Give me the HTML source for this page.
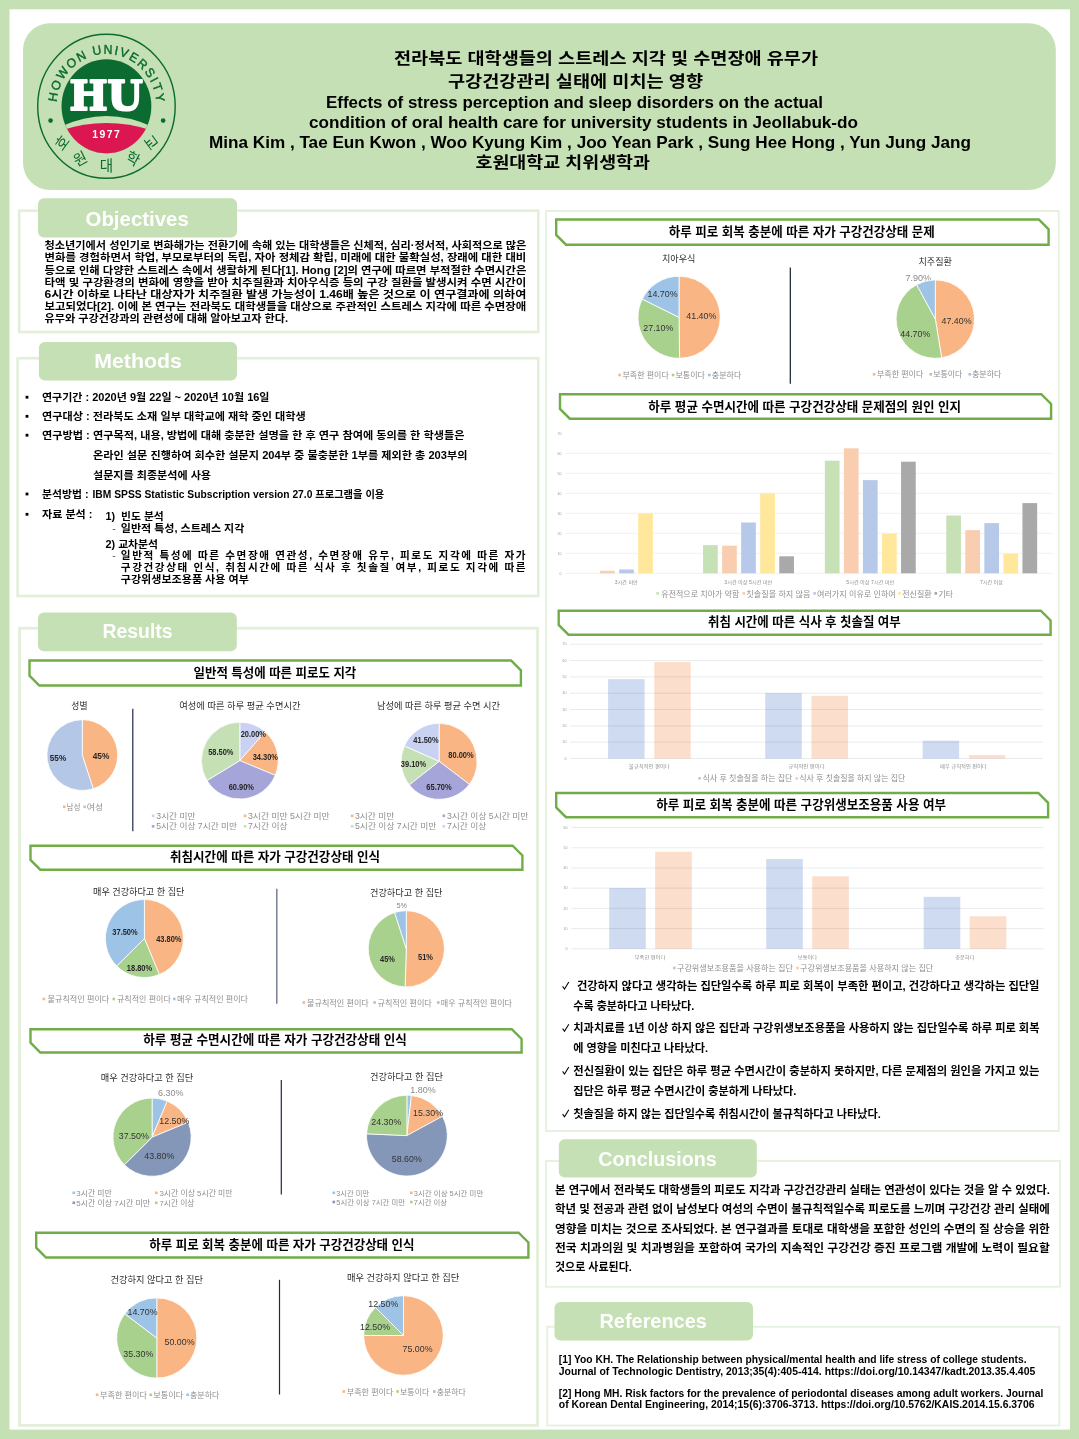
<!DOCTYPE html>
<html lang="ko">
<head>
<meta charset="utf-8">
<title>전라북도 대학생들의 스트레스 지각 및 수면장애 유무가 구강건강관리 실태에 미치는 영향</title>
<style>
html,body{margin:0;padding:0;background:#c5e0b4;}
body{width:1079px;height:1439px;overflow:hidden;position:relative;}
svg{display:block;position:absolute;left:0;top:0;}
svg text{white-space:pre;}
</style>
</head>
<body>
<svg width="1079" height="1439" viewBox="0 0 1079 1439" font-family="'Liberation Sans','Noto Sans CJK KR','NanumGothic',sans-serif" font-weight="700" fill="#000">
<rect x="0.00" y="0.00" width="1079.00" height="1439.00" fill="#c5e0b4"/>
<rect x="9.50" y="9.30" width="1060.50" height="1420.30" fill="#fff"/>
<rect x="23.00" y="23.20" width="1032.80" height="166.80" fill="#c5e0b4" rx="27"/>
<text x="394.00" y="64.14" font-size="16.2" textLength="424.00" lengthAdjust="spacingAndGlyphs">전라북도 대학생들의 스트레스 지각 및 수면장애 유무가</text>
<text x="448.00" y="87.06" font-size="16" textLength="255.00" lengthAdjust="spacingAndGlyphs">구강건강관리 실태에 미치는 영향</text>
<text x="326.00" y="107.60" font-size="16.6" textLength="497.00" lengthAdjust="spacingAndGlyphs">Effects of stress perception and sleep disorders on the actual</text>
<text x="309.00" y="127.60" font-size="16.6" textLength="549.00" lengthAdjust="spacingAndGlyphs">condition of oral health care for university students in Jeollabuk-do</text>
<text x="209.00" y="147.70" font-size="16.6" textLength="762.00" lengthAdjust="spacingAndGlyphs">Mina Kim , Tae Eun Kwon , Woo Kyung Kim , Joo Yean Park , Sung Hee Hong , Yun Jung Jang</text>
<text x="475.50" y="167.86" font-size="16" textLength="174.50" lengthAdjust="spacingAndGlyphs">호원대학교 치위생학과</text>
<g id="logo" transform="translate(106.45,106.3) scale(1,1.047)">
<circle cx="0" cy="0" r="68.75" fill="none" stroke="#0b6b30" stroke-width="1.4"/>
<clipPath id="disk"><circle cx="0" cy="0" r="44.9"/></clipPath>
<g clip-path="url(#disk)">
<rect x="-50" y="-50" width="100" height="100" fill="#0b6b30"/>
<path d="M-46,19.6 Q0,-1.2 46,19.6 L46,50 L-46,50 Z" fill="#c5e0b4"/>
<path d="M-46,23.2 Q0,8.7 46,23.2 L46,50 L-46,50 Z" fill="#dc1650"/>
</g>
<text x="-37.00" y="3.60" font-size="39.5" fill="#fff" font-family="'DejaVu Serif','Liberation Serif',serif" textLength="73.30" lengthAdjust="spacingAndGlyphs" stroke="#fff" stroke-width="2.1" stroke-linejoin="round">HU</text>
<text x="-14.10" y="30.50" font-size="10.4" fill="#fff" font-family="'Liberation Sans',sans-serif" textLength="27.40" lengthAdjust="spacing">1977</text>
<circle cx="-55.9" cy="13.6" r="2.3" fill="#0b6b30"/><circle cx="56.7" cy="13.6" r="2.3" fill="#0b6b30"/>
<path id="arcTop" d="M-49.85,-3.92 A50.0,50.0 0 0 1 49.85,-3.92" fill="none"/>
<text font-size="12.2" font-weight="400" fill="#0b6b30" font-family="'Liberation Sans',sans-serif" stroke="#0b6b30" stroke-width="0.4"><textPath href="#arcTop" textLength="149.2" lengthAdjust="spacing">HOWON UNIVERSITY</textPath></text>
<text x="0" y="0" font-size="14.6" font-weight="400" fill="#0b6b30" text-anchor="middle" transform="translate(-44.52,34.78) rotate(-52.0) translate(0,5.6)">호</text>
<text x="0" y="0" font-size="14.6" font-weight="400" fill="#0b6b30" text-anchor="middle" transform="translate(-26.44,49.93) rotate(-27.9) translate(0,5.6)">원</text>
<text x="0" y="0" font-size="14.6" font-weight="400" fill="#0b6b30" text-anchor="middle" transform="translate(0.00,56.50) rotate(0.0) translate(0,5.6)">대</text>
<text x="0" y="0" font-size="14.6" font-weight="400" fill="#0b6b30" text-anchor="middle" transform="translate(26.70,49.79) rotate(28.2) translate(0,5.6)">학</text>
<text x="0" y="0" font-size="14.6" font-weight="400" fill="#0b6b30" text-anchor="middle" transform="translate(44.82,34.40) rotate(52.5) translate(0,5.6)">교</text>
</g>
<rect x="19.20" y="210.70" width="519.10" height="121.30" fill="none" stroke="#e2f0d9" stroke-width="2.6"/>
<rect x="38.00" y="198.20" width="199.00" height="39.20" fill="#c5e0b4" rx="6"/>
<text x="85.50" y="225.80" font-size="20.5" fill="#fff" textLength="103.30" lengthAdjust="spacingAndGlyphs">Objectives</text>
<text x="44.60" y="249.18" font-size="10.6" textLength="481.70" lengthAdjust="spacingAndGlyphs">청소년기에서 성인기로 변화해가는 전환기에 속해 있는 대학생들은 신체적, 심리·정서적, 사회적으로 많은</text>
<text x="44.60" y="261.38" font-size="10.6" textLength="481.70" lengthAdjust="spacingAndGlyphs">변화를 경험하면서 학업, 부모로부터의 독립, 자아 정체감 확립, 미래에 대한 불확실성, 장래에 대한 대비</text>
<text x="44.60" y="273.58" font-size="10.6" textLength="481.70" lengthAdjust="spacingAndGlyphs">등으로 인해 다양한 스트레스 속에서 생활하게 된다[1]. Hong [2]의 연구에 따르면 부적절한 수면시간은</text>
<text x="44.60" y="285.78" font-size="10.6" textLength="481.70" lengthAdjust="spacingAndGlyphs">타액 및 구강환경의 변화에 영향을 받아 치주질환과 치아우식증 등의 구강 질환을 발생시켜 수면 시간이</text>
<text x="44.60" y="297.98" font-size="10.6" textLength="481.70" lengthAdjust="spacingAndGlyphs">6시간 이하로 나타난 대상자가 치주질환 발생 가능성이 1.46배 높은 것으로 이 연구결과에 의하여</text>
<text x="44.60" y="310.18" font-size="10.6" textLength="481.70" lengthAdjust="spacingAndGlyphs">보고되었다[2]. 이에 본 연구는 전라북도 대학생들을 대상으로 주관적인 스트레스 지각에 따른 수면장애</text>
<text x="44.60" y="322.38" font-size="10.6" textLength="243.40" lengthAdjust="spacingAndGlyphs">유무와 구강건강과의 관련성에 대해 알아보고자 한다.</text>
<rect x="17.60" y="358.20" width="520.70" height="237.80" fill="none" stroke="#e2f0d9" stroke-width="2.6"/>
<rect x="38.90" y="342.00" width="198.10" height="38.60" fill="#c5e0b4" rx="6"/>
<text x="94.30" y="368.00" font-size="20.5" fill="#fff" textLength="87.50" lengthAdjust="spacingAndGlyphs">Methods</text>
<rect x="25.60" y="395.80" width="2.80" height="2.80" fill="#000"/>
<text x="42.00" y="401.28" font-size="10.6" textLength="227.50" lengthAdjust="spacingAndGlyphs">연구기간 : 2020년 9월 22일 ~ 2020년 10월 16일</text>
<rect x="25.60" y="414.90" width="2.80" height="2.80" fill="#000"/>
<text x="42.00" y="420.38" font-size="10.6" textLength="263.80" lengthAdjust="spacingAndGlyphs">연구대상 : 전라북도 소재 일부 대학교에 재학 중인 대학생</text>
<rect x="25.60" y="433.80" width="2.80" height="2.80" fill="#000"/>
<text x="42.00" y="439.28" font-size="10.6" textLength="422.50" lengthAdjust="spacingAndGlyphs">연구방법 : 연구목적, 내용, 방법에 대해 충분한 설명을 한 후 연구 참여에 동의를 한 학생들은</text>
<text x="93.00" y="458.68" font-size="10.6" textLength="374.50" lengthAdjust="spacingAndGlyphs">온라인 설문 진행하여 회수한 설문지 204부 중 불충분한 1부를 제외한 총 203부의</text>
<text x="93.00" y="478.58" font-size="10.6" textLength="118.00" lengthAdjust="spacingAndGlyphs">설문지를 최종분석에 사용</text>
<rect x="25.60" y="492.60" width="2.80" height="2.80" fill="#000"/>
<text x="42.00" y="498.08" font-size="10.6" textLength="46.50" lengthAdjust="spacingAndGlyphs">분석방법 :</text>
<text x="92.50" y="498.08" font-size="10.6" textLength="291.80" lengthAdjust="spacingAndGlyphs">IBM SPSS Statistic Subscription version 27.0 프로그램을 이용</text>
<rect x="25.60" y="512.90" width="2.80" height="2.80" fill="#000"/>
<text x="42.00" y="518.38" font-size="10.6" textLength="50.50" lengthAdjust="spacingAndGlyphs">자료 분석 :</text>
<text x="105.50" y="520.28" font-size="10.6" textLength="58.30" lengthAdjust="spacingAndGlyphs">1)  빈도 분석</text>
<text x="112.30" y="532.08" font-size="10.6" font-weight="400" fill="#555">-</text>
<text x="120.80" y="532.08" font-size="10.6" textLength="123.50" lengthAdjust="spacingAndGlyphs">일반적 특성, 스트레스 지각</text>
<text x="105.50" y="547.68" font-size="10.6" textLength="52.50" lengthAdjust="spacingAndGlyphs">2) 교차분석</text>
<text x="112.30" y="559.08" font-size="10.6" font-weight="400" fill="#555">-</text>
<text x="120.80" y="559.08" font-size="10.6" textLength="404.70" lengthAdjust="spacing">일반적 특성에 따른 수면장애 연관성, 수면장애 유무, 피로도 지각에 따른 자가</text>
<text x="120.80" y="571.18" font-size="10.6" textLength="404.70" lengthAdjust="spacing">구강건강상태 인식, 취침시간에 따른 식사 후 칫솔질 여부, 피로도 지각에 따른</text>
<text x="120.80" y="583.28" font-size="10.6" textLength="128.00" lengthAdjust="spacingAndGlyphs">구강위생보조용품 사용 여부</text>
<rect x="19.60" y="628.20" width="518.00" height="797.20" fill="none" stroke="#e2f0d9" stroke-width="2.8"/>
<rect x="38.00" y="612.50" width="198.80" height="38.70" fill="#c5e0b4" rx="6"/>
<text x="102.50" y="638.30" font-size="20.5" fill="#fff" textLength="70.00" lengthAdjust="spacingAndGlyphs">Results</text>
<path d="M29.50,660.50 L511.10,660.50 L520.90,670.30 L520.90,685.50 L39.30,685.50 L29.50,675.70 Z" fill="#fff" stroke="#70ad47" stroke-width="2.4" stroke-linejoin="miter"/>
<text x="193.50" y="677.35" font-size="12.6" textLength="162.80" lengthAdjust="spacingAndGlyphs">일반적 특성에 따른 피로도 지각</text>
<text x="71.30" y="709.38" font-size="9.3" font-weight="400" fill="#2b2b2b" textLength="16.20" lengthAdjust="spacingAndGlyphs">성별</text>
<path d="M82.30,755.10 L82.30,719.70 A35.40,35.40 0 0 1 93.24,788.77 Z" fill="#fab584" stroke="#fff" stroke-width="0.8" stroke-linejoin="round"/>
<path d="M82.30,755.10 L93.24,788.77 A35.40,35.40 0 1 1 82.30,719.70 Z" fill="#b4c7e7" stroke="#fff" stroke-width="0.8" stroke-linejoin="round"/>
<text x="49.85" y="760.51" font-size="8.6" fill="#262626" textLength="16.30" lengthAdjust="spacingAndGlyphs">55%</text>
<text x="92.70" y="759.31" font-size="8.6" fill="#262626" textLength="16.60" lengthAdjust="spacingAndGlyphs">45%</text>
<rect x="63.00" y="805.50" width="2.60" height="2.60" fill="#fab584"/>
<text x="66.50" y="809.96" font-size="8.2" font-weight="400" fill="#8e8e8e" textLength="14.00" lengthAdjust="spacingAndGlyphs">남성</text>
<rect x="83.30" y="805.50" width="2.60" height="2.60" fill="#b4c7e7"/>
<text x="86.80" y="809.96" font-size="8.2" font-weight="400" fill="#8e8e8e" textLength="16.20" lengthAdjust="spacingAndGlyphs">여성</text>
<line x1="132.80" y1="708.80" x2="132.80" y2="831.30" stroke="#1f2a44" stroke-width="1.2"/>
<text x="179.30" y="708.58" font-size="9.3" font-weight="400" fill="#2b2b2b" textLength="121.20" lengthAdjust="spacingAndGlyphs">여성에 따른 하루 평균 수면시간</text>
<path d="M239.80,760.60 L239.80,722.20 A38.40,38.40 0 0 1 265.22,731.82 Z" fill="#c9d2f2" stroke="#fff" stroke-width="0.8" stroke-linejoin="round"/>
<path d="M239.80,760.60 L265.22,731.82 A38.40,38.40 0 0 1 275.27,775.32 Z" fill="#fab584" stroke="#fff" stroke-width="0.8" stroke-linejoin="round"/>
<path d="M239.80,760.60 L275.27,775.32 A38.40,38.40 0 0 1 206.97,780.52 Z" fill="#a5a5d9" stroke="#fff" stroke-width="0.8" stroke-linejoin="round"/>
<path d="M239.80,760.60 L206.97,780.52 A38.40,38.40 0 0 1 239.80,722.20 Z" fill="#c5e0b4" stroke="#fff" stroke-width="0.8" stroke-linejoin="round"/>
<text x="240.65" y="736.74" font-size="8.4" fill="#262626" textLength="25.30" lengthAdjust="spacingAndGlyphs">20.00%</text>
<text x="252.65" y="760.44" font-size="8.4" fill="#262626" textLength="25.30" lengthAdjust="spacingAndGlyphs">34.30%</text>
<text x="228.65" y="790.44" font-size="8.4" fill="#262626" textLength="25.30" lengthAdjust="spacingAndGlyphs">60.90%</text>
<text x="208.15" y="755.44" font-size="8.4" fill="#262626" textLength="25.30" lengthAdjust="spacingAndGlyphs">58.50%</text>
<rect x="151.80" y="814.50" width="2.60" height="2.60" fill="#c9d2f2"/>
<text x="156.30" y="818.96" font-size="8.2" font-weight="400" fill="#8e8e8e" textLength="39.20" lengthAdjust="spacingAndGlyphs">3시간 미만</text>
<rect x="243.80" y="814.50" width="2.60" height="2.60" fill="#fab584"/>
<text x="248.00" y="818.96" font-size="8.2" font-weight="400" fill="#8e8e8e" textLength="81.50" lengthAdjust="spacingAndGlyphs">3시간 미만 5시간 미만</text>
<rect x="151.80" y="825.00" width="2.60" height="2.60" fill="#a5a5d9"/>
<text x="156.30" y="829.46" font-size="8.2" font-weight="400" fill="#8e8e8e" textLength="80.70" lengthAdjust="spacingAndGlyphs">5시간 이상 7시간 미만</text>
<rect x="243.80" y="825.00" width="2.60" height="2.60" fill="#c5e0b4"/>
<text x="248.00" y="829.46" font-size="8.2" font-weight="400" fill="#8e8e8e" textLength="39.50" lengthAdjust="spacingAndGlyphs">7시간 이상</text>
<text x="377.00" y="709.38" font-size="9.3" font-weight="400" fill="#2b2b2b" textLength="123.00" lengthAdjust="spacingAndGlyphs">남성에 따른 하루 평균 수면 시간</text>
<path d="M439.10,761.30 L439.10,723.30 A38.00,38.00 0 0 1 469.34,784.31 Z" fill="#fab584" stroke="#fff" stroke-width="0.8" stroke-linejoin="round"/>
<path d="M439.10,761.30 L469.34,784.31 A38.00,38.00 0 0 1 409.25,784.81 Z" fill="#a5a5d9" stroke="#fff" stroke-width="0.8" stroke-linejoin="round"/>
<path d="M439.10,761.30 L409.25,784.81 A38.00,38.00 0 0 1 404.38,745.86 Z" fill="#c5e0b4" stroke="#fff" stroke-width="0.8" stroke-linejoin="round"/>
<path d="M439.10,761.30 L404.38,745.86 A38.00,38.00 0 0 1 439.10,723.30 Z" fill="#c9d2f2" stroke="#fff" stroke-width="0.8" stroke-linejoin="round"/>
<text x="413.35" y="742.94" font-size="8.4" fill="#262626" textLength="25.30" lengthAdjust="spacingAndGlyphs">41.50%</text>
<text x="448.35" y="758.44" font-size="8.4" fill="#262626" textLength="25.30" lengthAdjust="spacingAndGlyphs">80.00%</text>
<text x="400.85" y="766.94" font-size="8.4" fill="#262626" textLength="25.30" lengthAdjust="spacingAndGlyphs">39.10%</text>
<text x="426.35" y="790.44" font-size="8.4" fill="#262626" textLength="25.30" lengthAdjust="spacingAndGlyphs">65.70%</text>
<rect x="350.80" y="814.50" width="2.60" height="2.60" fill="#fab584"/>
<text x="355.00" y="818.96" font-size="8.2" font-weight="400" fill="#8e8e8e" textLength="39.30" lengthAdjust="spacingAndGlyphs">3시간 미만</text>
<rect x="442.50" y="814.50" width="2.60" height="2.60" fill="#a5a5d9"/>
<text x="447.00" y="818.96" font-size="8.2" font-weight="400" fill="#8e8e8e" textLength="81.30" lengthAdjust="spacingAndGlyphs">3시간 이상 5시간 미만</text>
<rect x="350.80" y="825.00" width="2.60" height="2.60" fill="#c5e0b4"/>
<text x="355.00" y="829.46" font-size="8.2" font-weight="400" fill="#8e8e8e" textLength="81.30" lengthAdjust="spacingAndGlyphs">5시간 이상 7시간 미만</text>
<rect x="442.50" y="825.00" width="2.60" height="2.60" fill="#c9d2f2"/>
<text x="447.00" y="829.46" font-size="8.2" font-weight="400" fill="#8e8e8e" textLength="39.30" lengthAdjust="spacingAndGlyphs">7시간 이상</text>
<path d="M30.50,845.70 L512.60,845.70 L522.40,855.50 L522.40,869.70 L40.30,869.70 L30.50,859.90 Z" fill="#fff" stroke="#70ad47" stroke-width="2.4" stroke-linejoin="miter"/>
<text x="170.00" y="861.15" font-size="12.6" textLength="210.00" lengthAdjust="spacingAndGlyphs">취침시간에 따른 자가 구강건강상태 인식</text>
<text x="93.00" y="895.38" font-size="9.3" font-weight="400" fill="#2b2b2b" textLength="91.50" lengthAdjust="spacingAndGlyphs">매우 건강하다고 한 집단</text>
<path d="M144.40,938.50 L144.40,899.50 A39.00,39.00 0 0 1 159.31,974.54 Z" fill="#fab584" stroke="#fff" stroke-width="0.8" stroke-linejoin="round"/>
<path d="M144.40,938.50 L159.31,974.54 A39.00,39.00 0 0 1 116.76,966.01 Z" fill="#a9d18e" stroke="#fff" stroke-width="0.8" stroke-linejoin="round"/>
<path d="M144.40,938.50 L116.76,966.01 A39.00,39.00 0 0 1 144.40,899.50 Z" fill="#9dc3e6" stroke="#fff" stroke-width="0.8" stroke-linejoin="round"/>
<text x="156.15" y="942.24" font-size="8.4" fill="#262626" textLength="25.30" lengthAdjust="spacingAndGlyphs">43.80%</text>
<text x="126.85" y="970.94" font-size="8.4" fill="#262626" textLength="25.30" lengthAdjust="spacingAndGlyphs">18.80%</text>
<text x="112.35" y="934.94" font-size="8.4" fill="#262626" textLength="25.30" lengthAdjust="spacingAndGlyphs">37.50%</text>
<rect x="42.50" y="997.70" width="2.60" height="2.60" fill="#fab584"/>
<text x="47.50" y="1002.16" font-size="8.2" font-weight="400" fill="#8e8e8e" textLength="61.80" lengthAdjust="spacingAndGlyphs">불규칙적인 편이다</text>
<rect x="112.50" y="997.70" width="2.60" height="2.60" fill="#a9d18e"/>
<text x="117.00" y="1002.16" font-size="8.2" font-weight="400" fill="#8e8e8e" textLength="53.80" lengthAdjust="spacingAndGlyphs">규칙적인 편이다</text>
<rect x="173.00" y="997.70" width="2.60" height="2.60" fill="#9dc3e6"/>
<text x="177.00" y="1002.16" font-size="8.2" font-weight="400" fill="#8e8e8e" textLength="71.00" lengthAdjust="spacingAndGlyphs">매우 규칙적인 편이다</text>
<line x1="276.80" y1="888.80" x2="276.80" y2="1003.80" stroke="#70778c" stroke-width="1.4"/>
<text x="370.00" y="896.08" font-size="9.3" font-weight="400" fill="#2b2b2b" textLength="72.50" lengthAdjust="spacingAndGlyphs">건강하다고 한 집단</text>
<text x="396.80" y="907.59" font-size="7.4" font-weight="400" fill="#808080" textLength="10.00" lengthAdjust="spacingAndGlyphs">5%</text>
<path d="M406.30,948.80 L406.30,910.70 A38.10,38.10 0 1 1 405.12,986.88 Z" fill="#fab584" stroke="#fff" stroke-width="0.8" stroke-linejoin="round"/>
<path d="M406.30,948.80 L405.12,986.88 A38.10,38.10 0 0 1 394.64,912.53 Z" fill="#a9d18e" stroke="#fff" stroke-width="0.8" stroke-linejoin="round"/>
<path d="M406.30,948.80 L394.64,912.53 A38.10,38.10 0 0 1 406.30,910.70 Z" fill="#9dc3e6" stroke="#fff" stroke-width="0.8" stroke-linejoin="round"/>
<text x="418.00" y="959.94" font-size="8.4" fill="#262626" textLength="15.00" lengthAdjust="spacingAndGlyphs">51%</text>
<text x="380.10" y="962.24" font-size="8.4" fill="#262626" textLength="14.80" lengthAdjust="spacingAndGlyphs">45%</text>
<rect x="302.50" y="1001.20" width="2.60" height="2.60" fill="#fab584"/>
<text x="307.00" y="1005.66" font-size="8.2" font-weight="400" fill="#8e8e8e" textLength="61.80" lengthAdjust="spacingAndGlyphs">불규칙적인 편이다</text>
<rect x="373.30" y="1001.20" width="2.60" height="2.60" fill="#a9d18e"/>
<text x="377.50" y="1005.66" font-size="8.2" font-weight="400" fill="#8e8e8e" textLength="54.30" lengthAdjust="spacingAndGlyphs">규칙적인 편이다</text>
<rect x="437.00" y="1001.20" width="2.60" height="2.60" fill="#9dc3e6"/>
<text x="440.80" y="1005.66" font-size="8.2" font-weight="400" fill="#8e8e8e" textLength="71.20" lengthAdjust="spacingAndGlyphs">매우 규칙적인 편이다</text>
<path d="M30.50,1029.20 L511.80,1029.20 L521.60,1039.00 L521.60,1052.50 L40.30,1052.50 L30.50,1042.70 Z" fill="#fff" stroke="#70ad47" stroke-width="2.4" stroke-linejoin="miter"/>
<text x="143.30" y="1044.45" font-size="12.6" textLength="263.50" lengthAdjust="spacingAndGlyphs">하루 평균 수면시간에 따른 자가 구강건강상태 인식</text>
<text x="100.80" y="1080.58" font-size="9.3" font-weight="400" fill="#2b2b2b" textLength="92.50" lengthAdjust="spacingAndGlyphs">매우 건강하다고 한 집단</text>
<path d="M152.10,1137.20 L152.10,1098.10 A39.10,39.10 0 0 1 167.16,1101.12 Z" fill="#9dc3e6" stroke="#fff" stroke-width="0.8" stroke-linejoin="round"/>
<path d="M152.10,1137.20 L167.16,1101.12 A39.10,39.10 0 0 1 188.25,1122.31 Z" fill="#fab584" stroke="#fff" stroke-width="0.8" stroke-linejoin="round"/>
<path d="M152.10,1137.20 L188.25,1122.31 A39.10,39.10 0 0 1 124.39,1164.78 Z" fill="#8497b9" stroke="#fff" stroke-width="0.8" stroke-linejoin="round"/>
<path d="M152.10,1137.20 L124.39,1164.78 A39.10,39.10 0 0 1 152.10,1098.10 Z" fill="#a9d18e" stroke="#fff" stroke-width="0.8" stroke-linejoin="round"/>
<text x="158.05" y="1096.01" font-size="8.6" font-weight="400" fill="#8a8a8a" textLength="25.50" lengthAdjust="spacingAndGlyphs">6.30%</text>
<text x="159.30" y="1123.51" font-size="8.6" font-weight="400" fill="#333" textLength="30.00" lengthAdjust="spacingAndGlyphs">12.50%</text>
<text x="118.80" y="1139.31" font-size="8.6" font-weight="400" fill="#333" textLength="30.00" lengthAdjust="spacingAndGlyphs">37.50%</text>
<text x="144.30" y="1158.81" font-size="8.6" font-weight="400" fill="#333" textLength="30.00" lengthAdjust="spacingAndGlyphs">43.80%</text>
<rect x="72.50" y="1191.50" width="2.60" height="2.60" fill="#9dc3e6"/>
<text x="76.30" y="1195.73" font-size="7.6" font-weight="400" fill="#8e8e8e" textLength="35.50" lengthAdjust="spacingAndGlyphs">3시간 미만</text>
<rect x="155.00" y="1191.50" width="2.60" height="2.60" fill="#fab584"/>
<text x="159.50" y="1195.73" font-size="7.6" font-weight="400" fill="#8e8e8e" textLength="73.00" lengthAdjust="spacingAndGlyphs">3시간 이상 5시간 미만</text>
<rect x="72.50" y="1201.50" width="2.60" height="2.60" fill="#8497b9"/>
<text x="76.30" y="1205.73" font-size="7.6" font-weight="400" fill="#8e8e8e" textLength="73.70" lengthAdjust="spacingAndGlyphs">5시간 이상 7시간 미만</text>
<rect x="155.00" y="1201.50" width="2.60" height="2.60" fill="#a9d18e"/>
<text x="159.50" y="1205.73" font-size="7.6" font-weight="400" fill="#8e8e8e" textLength="35.00" lengthAdjust="spacingAndGlyphs">7시간 이상</text>
<line x1="281.30" y1="1080.00" x2="281.30" y2="1194.50" stroke="#1f2a44" stroke-width="1.2"/>
<text x="370.00" y="1080.38" font-size="9.3" font-weight="400" fill="#2b2b2b" textLength="73.00" lengthAdjust="spacingAndGlyphs">건강하다고 한 집단</text>
<text x="410.25" y="1093.01" font-size="8.6" font-weight="400" fill="#8a8a8a" textLength="25.50" lengthAdjust="spacingAndGlyphs">1.80%</text>
<path d="M406.90,1135.60 L406.90,1095.20 A40.40,40.40 0 0 1 411.46,1095.46 Z" fill="#9dc3e6" stroke="#fff" stroke-width="0.8" stroke-linejoin="round"/>
<path d="M406.90,1135.60 L411.46,1095.46 A40.40,40.40 0 0 1 442.42,1116.36 Z" fill="#fab584" stroke="#fff" stroke-width="0.8" stroke-linejoin="round"/>
<path d="M406.90,1135.60 L442.42,1116.36 A40.40,40.40 0 1 1 366.54,1133.82 Z" fill="#8497b9" stroke="#fff" stroke-width="0.8" stroke-linejoin="round"/>
<path d="M406.90,1135.60 L366.54,1133.82 A40.40,40.40 0 0 1 406.90,1095.20 Z" fill="#a9d18e" stroke="#fff" stroke-width="0.8" stroke-linejoin="round"/>
<text x="413.00" y="1116.31" font-size="8.6" font-weight="400" fill="#333" textLength="30.00" lengthAdjust="spacingAndGlyphs">15.30%</text>
<text x="371.30" y="1124.81" font-size="8.6" font-weight="400" fill="#333" textLength="30.00" lengthAdjust="spacingAndGlyphs">24.30%</text>
<text x="391.80" y="1162.31" font-size="8.6" font-weight="400" fill="#333" textLength="30.00" lengthAdjust="spacingAndGlyphs">58.60%</text>
<rect x="332.50" y="1191.50" width="2.60" height="2.60" fill="#9dc3e6"/>
<text x="336.30" y="1195.65" font-size="7.4" font-weight="400" fill="#8e8e8e" textLength="33.00" lengthAdjust="spacingAndGlyphs">3시간 미만</text>
<rect x="410.00" y="1191.50" width="2.60" height="2.60" fill="#fab584"/>
<text x="413.80" y="1195.65" font-size="7.4" font-weight="400" fill="#8e8e8e" textLength="69.50" lengthAdjust="spacingAndGlyphs">3시간 이상 5시간 미만</text>
<rect x="332.50" y="1200.70" width="2.60" height="2.60" fill="#8497b9"/>
<text x="336.30" y="1204.85" font-size="7.4" font-weight="400" fill="#8e8e8e" textLength="68.70" lengthAdjust="spacingAndGlyphs">5시간 이상 7시간 미만</text>
<rect x="410.00" y="1200.70" width="2.60" height="2.60" fill="#a9d18e"/>
<text x="413.80" y="1204.85" font-size="7.4" font-weight="400" fill="#8e8e8e" textLength="33.20" lengthAdjust="spacingAndGlyphs">7시간 이상</text>
<path d="M36.20,1232.70 L518.60,1232.70 L528.40,1242.50 L528.40,1257.50 L46.00,1257.50 L36.20,1247.70 Z" fill="#fff" stroke="#70ad47" stroke-width="2.4" stroke-linejoin="miter"/>
<text x="149.30" y="1249.35" font-size="12.6" textLength="265.20" lengthAdjust="spacingAndGlyphs">하루 피로 회복 충분에 따른 자가 구강건강상태 인식</text>
<text x="110.50" y="1283.38" font-size="9.3" font-weight="400" fill="#2b2b2b" textLength="92.50" lengthAdjust="spacingAndGlyphs">건강하지 않다고 한 집단</text>
<path d="M156.80,1338.00 L156.80,1297.90 A40.10,40.10 0 0 1 156.80,1378.10 Z" fill="#fab584" stroke="#fff" stroke-width="0.8" stroke-linejoin="round"/>
<path d="M156.80,1338.00 L156.80,1378.10 A40.10,40.10 0 0 1 124.81,1313.82 Z" fill="#a9d18e" stroke="#fff" stroke-width="0.8" stroke-linejoin="round"/>
<path d="M156.80,1338.00 L124.81,1313.82 A40.10,40.10 0 0 1 156.80,1297.90 Z" fill="#9dc3e6" stroke="#fff" stroke-width="0.8" stroke-linejoin="round"/>
<text x="164.50" y="1345.31" font-size="8.6" font-weight="400" fill="#333" textLength="30.00" lengthAdjust="spacingAndGlyphs">50.00%</text>
<text x="123.30" y="1357.01" font-size="8.6" font-weight="400" fill="#333" textLength="30.00" lengthAdjust="spacingAndGlyphs">35.30%</text>
<text x="127.50" y="1315.01" font-size="8.6" font-weight="400" fill="#333" textLength="30.00" lengthAdjust="spacingAndGlyphs">14.70%</text>
<rect x="95.80" y="1393.50" width="2.60" height="2.60" fill="#fab584"/>
<text x="100.00" y="1397.96" font-size="8.2" font-weight="400" fill="#8e8e8e" textLength="47.00" lengthAdjust="spacingAndGlyphs">부족한 편이다</text>
<rect x="149.50" y="1393.50" width="2.60" height="2.60" fill="#a9d18e"/>
<text x="153.30" y="1397.96" font-size="8.2" font-weight="400" fill="#8e8e8e" textLength="30.00" lengthAdjust="spacingAndGlyphs">보통이다</text>
<rect x="186.30" y="1393.50" width="2.60" height="2.60" fill="#9dc3e6"/>
<text x="190.00" y="1397.96" font-size="8.2" font-weight="400" fill="#8e8e8e" textLength="29.50" lengthAdjust="spacingAndGlyphs">충분하다</text>
<line x1="279.50" y1="1279.80" x2="279.50" y2="1394.50" stroke="#1f2a44" stroke-width="1.2"/>
<text x="347.00" y="1281.38" font-size="9.3" font-weight="400" fill="#2b2b2b" textLength="112.30" lengthAdjust="spacingAndGlyphs">매우 건강하지 않다고 한 집단</text>
<path d="M403.50,1335.50 L403.50,1295.70 A39.80,39.80 0 1 1 363.70,1335.50 Z" fill="#fab584" stroke="#fff" stroke-width="0.8" stroke-linejoin="round"/>
<path d="M403.50,1335.50 L363.70,1335.50 A39.80,39.80 0 0 1 375.36,1307.36 Z" fill="#a9d18e" stroke="#fff" stroke-width="0.8" stroke-linejoin="round"/>
<path d="M403.50,1335.50 L375.36,1307.36 A39.80,39.80 0 0 1 403.50,1295.70 Z" fill="#9dc3e6" stroke="#fff" stroke-width="0.8" stroke-linejoin="round"/>
<text x="402.50" y="1352.01" font-size="8.6" font-weight="400" fill="#333" textLength="30.00" lengthAdjust="spacingAndGlyphs">75.00%</text>
<text x="360.00" y="1329.51" font-size="8.6" font-weight="400" fill="#333" textLength="30.00" lengthAdjust="spacingAndGlyphs">12.50%</text>
<text x="368.30" y="1306.51" font-size="8.6" font-weight="400" fill="#333" textLength="30.00" lengthAdjust="spacingAndGlyphs">12.50%</text>
<rect x="342.50" y="1390.20" width="2.60" height="2.60" fill="#fab584"/>
<text x="346.80" y="1394.66" font-size="8.2" font-weight="400" fill="#8e8e8e" textLength="46.50" lengthAdjust="spacingAndGlyphs">부족한 편이다</text>
<rect x="396.30" y="1390.20" width="2.60" height="2.60" fill="#a9d18e"/>
<text x="400.00" y="1394.66" font-size="8.2" font-weight="400" fill="#8e8e8e" textLength="29.30" lengthAdjust="spacingAndGlyphs">보통이다</text>
<rect x="433.00" y="1390.20" width="2.60" height="2.60" fill="#9dc3e6"/>
<text x="436.80" y="1394.66" font-size="8.2" font-weight="400" fill="#8e8e8e" textLength="29.00" lengthAdjust="spacingAndGlyphs">충분하다</text>
<rect x="546.00" y="211.00" width="512.70" height="920.00" fill="none" stroke="#e4f1dc" stroke-width="1.8"/>
<path d="M556.20,219.50 L1038.80,219.50 L1048.60,229.30 L1048.60,244.70 L566.00,244.70 L556.20,234.90 Z" fill="#fff" stroke="#70ad47" stroke-width="2.4" stroke-linejoin="miter"/>
<text x="668.80" y="236.15" font-size="12.6" textLength="266.00" lengthAdjust="spacingAndGlyphs">하루 피로 회복 충분에 따른 자가 구강건강상태 문제</text>
<text x="662.00" y="261.58" font-size="9.3" font-weight="400" fill="#2b2b2b" textLength="33.50" lengthAdjust="spacingAndGlyphs">치아우식</text>
<path d="M679.00,317.30 L679.00,276.30 A41.00,41.00 0 0 1 679.62,358.30 Z" fill="#fab584" stroke="#fff" stroke-width="0.8" stroke-linejoin="round"/>
<path d="M679.00,317.30 L679.62,358.30 A41.00,41.00 0 0 1 642.27,299.07 Z" fill="#a9d18e" stroke="#fff" stroke-width="0.8" stroke-linejoin="round"/>
<path d="M679.00,317.30 L642.27,299.07 A41.00,41.00 0 0 1 679.00,276.30 Z" fill="#9dc3e6" stroke="#fff" stroke-width="0.8" stroke-linejoin="round"/>
<text x="686.30" y="318.81" font-size="8.6" font-weight="400" fill="#333" textLength="30.00" lengthAdjust="spacingAndGlyphs">41.40%</text>
<text x="643.30" y="331.31" font-size="8.6" font-weight="400" fill="#333" textLength="30.00" lengthAdjust="spacingAndGlyphs">27.10%</text>
<text x="647.50" y="297.31" font-size="8.6" font-weight="400" fill="#333" textLength="30.00" lengthAdjust="spacingAndGlyphs">14.70%</text>
<rect x="618.30" y="373.70" width="2.60" height="2.60" fill="#fab584"/>
<text x="622.50" y="378.16" font-size="8.2" font-weight="400" fill="#8e8e8e" textLength="46.30" lengthAdjust="spacingAndGlyphs">부족한 편이다</text>
<rect x="671.80" y="373.70" width="2.60" height="2.60" fill="#a9d18e"/>
<text x="675.50" y="378.16" font-size="8.2" font-weight="400" fill="#8e8e8e" textLength="29.50" lengthAdjust="spacingAndGlyphs">보통이다</text>
<rect x="708.00" y="373.70" width="2.60" height="2.60" fill="#9dc3e6"/>
<text x="711.80" y="378.16" font-size="8.2" font-weight="400" fill="#8e8e8e" textLength="29.50" lengthAdjust="spacingAndGlyphs">충분하다</text>
<line x1="790.30" y1="267.50" x2="790.30" y2="383.80" stroke="#141c30" stroke-width="1.2"/>
<text x="918.50" y="264.88" font-size="9.3" font-weight="400" fill="#2b2b2b" textLength="33.50" lengthAdjust="spacingAndGlyphs">치주질환</text>
<text x="905.55" y="280.51" font-size="8.6" font-weight="400" fill="#8a8a8a" textLength="25.50" lengthAdjust="spacingAndGlyphs">7.90%</text>
<path d="M935.30,319.10 L935.30,279.90 A39.20,39.20 0 0 1 941.68,357.78 Z" fill="#fab584" stroke="#fff" stroke-width="0.8" stroke-linejoin="round"/>
<path d="M935.30,319.10 L941.68,357.78 A39.20,39.20 0 0 1 916.63,284.63 Z" fill="#a9d18e" stroke="#fff" stroke-width="0.8" stroke-linejoin="round"/>
<path d="M935.30,319.10 L916.63,284.63 A39.20,39.20 0 0 1 935.30,279.90 Z" fill="#9dc3e6" stroke="#fff" stroke-width="0.8" stroke-linejoin="round"/>
<text x="941.50" y="323.51" font-size="8.6" font-weight="400" fill="#333" textLength="30.00" lengthAdjust="spacingAndGlyphs">47.40%</text>
<text x="900.30" y="337.31" font-size="8.6" font-weight="400" fill="#333" textLength="30.00" lengthAdjust="spacingAndGlyphs">44.70%</text>
<rect x="872.80" y="373.00" width="2.60" height="2.60" fill="#fab584"/>
<text x="877.00" y="377.46" font-size="8.2" font-weight="400" fill="#8e8e8e" textLength="46.30" lengthAdjust="spacingAndGlyphs">부족한 편이다</text>
<rect x="929.50" y="373.00" width="2.60" height="2.60" fill="#a9d18e"/>
<text x="933.30" y="377.46" font-size="8.2" font-weight="400" fill="#8e8e8e" textLength="29.00" lengthAdjust="spacingAndGlyphs">보통이다</text>
<rect x="968.50" y="373.00" width="2.60" height="2.60" fill="#9dc3e6"/>
<text x="972.00" y="377.46" font-size="8.2" font-weight="400" fill="#8e8e8e" textLength="29.50" lengthAdjust="spacingAndGlyphs">충분하다</text>
<path d="M560.00,394.20 L1041.30,394.20 L1051.10,404.00 L1051.10,418.70 L569.80,418.70 L560.00,408.90 Z" fill="#fff" stroke="#70ad47" stroke-width="2.4" stroke-linejoin="miter"/>
<text x="648.30" y="411.15" font-size="12.6" textLength="312.70" lengthAdjust="spacingAndGlyphs">하루 평균 수면시간에 따른 구강건강상태 문제점의 원인 인지</text>
<line x1="565.00" y1="573.30" x2="1052.80" y2="573.30" stroke="#ebebeb" stroke-width="0.7"/>
<line x1="565.00" y1="553.30" x2="1052.80" y2="553.30" stroke="#ebebeb" stroke-width="0.7"/>
<line x1="565.00" y1="533.30" x2="1052.80" y2="533.30" stroke="#ebebeb" stroke-width="0.7"/>
<line x1="565.00" y1="513.30" x2="1052.80" y2="513.30" stroke="#ebebeb" stroke-width="0.7"/>
<line x1="565.00" y1="493.30" x2="1052.80" y2="493.30" stroke="#ebebeb" stroke-width="0.7"/>
<line x1="565.00" y1="473.30" x2="1052.80" y2="473.30" stroke="#ebebeb" stroke-width="0.7"/>
<line x1="565.00" y1="453.30" x2="1052.80" y2="453.30" stroke="#ebebeb" stroke-width="0.7"/>
<text x="561.50" y="574.50" font-size="3.6" font-weight="400" fill="#9a9a9a" text-anchor="end">0</text>
<text x="561.50" y="554.50" font-size="3.6" font-weight="400" fill="#9a9a9a" text-anchor="end">10</text>
<text x="561.50" y="534.50" font-size="3.6" font-weight="400" fill="#9a9a9a" text-anchor="end">20</text>
<text x="561.50" y="514.50" font-size="3.6" font-weight="400" fill="#9a9a9a" text-anchor="end">30</text>
<text x="561.50" y="494.50" font-size="3.6" font-weight="400" fill="#9a9a9a" text-anchor="end">40</text>
<text x="561.50" y="474.50" font-size="3.6" font-weight="400" fill="#9a9a9a" text-anchor="end">50</text>
<text x="561.50" y="454.50" font-size="3.6" font-weight="400" fill="#9a9a9a" text-anchor="end">60</text>
<text x="561.50" y="434.50" font-size="3.6" font-weight="400" fill="#9a9a9a" text-anchor="end">70</text>
<rect x="600.10" y="570.80" width="14.70" height="2.50" fill="#f8cbad" fill-opacity="0.97"/>
<rect x="619.15" y="569.50" width="14.70" height="3.80" fill="#b4c7e7" fill-opacity="0.97"/>
<rect x="638.20" y="513.30" width="14.70" height="60.00" fill="#ffe699" fill-opacity="0.97"/>
<rect x="703.05" y="545.10" width="14.70" height="28.20" fill="#c5e0b4" fill-opacity="0.97"/>
<rect x="722.10" y="545.70" width="14.70" height="27.60" fill="#f8cbad" fill-opacity="0.97"/>
<rect x="741.15" y="522.50" width="14.70" height="50.80" fill="#b4c7e7" fill-opacity="0.97"/>
<rect x="760.20" y="493.30" width="14.70" height="80.00" fill="#ffe699" fill-opacity="0.97"/>
<rect x="779.25" y="556.30" width="14.70" height="17.00" fill="#a6a6a6" fill-opacity="0.97"/>
<rect x="824.85" y="460.70" width="14.70" height="112.60" fill="#c5e0b4" fill-opacity="0.97"/>
<rect x="843.90" y="448.30" width="14.70" height="125.00" fill="#f8cbad" fill-opacity="0.97"/>
<rect x="862.95" y="480.10" width="14.70" height="93.20" fill="#b4c7e7" fill-opacity="0.97"/>
<rect x="882.00" y="533.70" width="14.70" height="39.60" fill="#ffe699" fill-opacity="0.97"/>
<rect x="901.05" y="461.70" width="14.70" height="111.60" fill="#a6a6a6" fill-opacity="0.97"/>
<rect x="946.25" y="515.50" width="14.70" height="57.80" fill="#c5e0b4" fill-opacity="0.97"/>
<rect x="965.30" y="530.10" width="14.70" height="43.20" fill="#f8cbad" fill-opacity="0.97"/>
<rect x="984.35" y="523.10" width="14.70" height="50.20" fill="#b4c7e7" fill-opacity="0.97"/>
<rect x="1003.40" y="553.70" width="14.70" height="19.60" fill="#ffe699" fill-opacity="0.97"/>
<rect x="1022.45" y="503.10" width="14.70" height="70.20" fill="#a6a6a6" fill-opacity="0.97"/>
<text x="614.80" y="583.72" font-size="5" font-weight="400" fill="#8c8c8c" textLength="23.00" lengthAdjust="spacingAndGlyphs">3시간 미만</text>
<text x="724.30" y="583.72" font-size="5" font-weight="400" fill="#8c8c8c" textLength="48.00" lengthAdjust="spacingAndGlyphs">3시간 이상 5시간 미만</text>
<text x="846.30" y="583.72" font-size="5" font-weight="400" fill="#8c8c8c" textLength="48.00" lengthAdjust="spacingAndGlyphs">5시간 이상 7시간 미만</text>
<text x="980.00" y="583.72" font-size="5" font-weight="400" fill="#8c8c8c" textLength="23.00" lengthAdjust="spacingAndGlyphs">7시간 이상</text>
<rect x="656.30" y="592.10" width="2.60" height="2.60" fill="#c5e0b4"/>
<text x="661.30" y="596.56" font-size="8.2" font-weight="400" fill="#8e8e8e" textLength="78.00" lengthAdjust="spacingAndGlyphs">유전적으로 치아가 약함</text>
<rect x="742.50" y="592.10" width="2.60" height="2.60" fill="#f8cbad"/>
<text x="746.30" y="596.56" font-size="8.2" font-weight="400" fill="#8e8e8e" textLength="64.20" lengthAdjust="spacingAndGlyphs">칫솔질을 하지 않음</text>
<rect x="813.30" y="592.10" width="2.60" height="2.60" fill="#b4c7e7"/>
<text x="817.00" y="596.56" font-size="8.2" font-weight="400" fill="#8e8e8e" textLength="78.80" lengthAdjust="spacingAndGlyphs">여러가지 이유로 인하여</text>
<rect x="898.30" y="592.10" width="2.60" height="2.60" fill="#ffe699"/>
<text x="902.30" y="596.56" font-size="8.2" font-weight="400" fill="#8e8e8e" textLength="29.20" lengthAdjust="spacingAndGlyphs">전신질환</text>
<rect x="934.50" y="592.10" width="2.60" height="2.60" fill="#a6a6a6"/>
<text x="938.50" y="596.56" font-size="8.2" font-weight="400" fill="#8e8e8e" textLength="14.30" lengthAdjust="spacingAndGlyphs">기타</text>
<path d="M558.70,610.70 L1040.80,610.70 L1050.60,620.50 L1050.60,634.70 L568.50,634.70 L558.70,624.90 Z" fill="#fff" stroke="#70ad47" stroke-width="2.4" stroke-linejoin="miter"/>
<text x="708.00" y="626.15" font-size="12.6" textLength="192.80" lengthAdjust="spacingAndGlyphs">취침 시간에 따른 식사 후 칫솔질 여부</text>
<text x="566.50" y="759.70" font-size="3.6" font-weight="400" fill="#9a9a9a" text-anchor="end">0</text>
<text x="566.50" y="743.38" font-size="3.6" font-weight="400" fill="#9a9a9a" text-anchor="end">10</text>
<text x="566.50" y="727.06" font-size="3.6" font-weight="400" fill="#9a9a9a" text-anchor="end">20</text>
<text x="566.50" y="710.74" font-size="3.6" font-weight="400" fill="#9a9a9a" text-anchor="end">30</text>
<text x="566.50" y="694.42" font-size="3.6" font-weight="400" fill="#9a9a9a" text-anchor="end">40</text>
<text x="566.50" y="678.10" font-size="3.6" font-weight="400" fill="#9a9a9a" text-anchor="end">50</text>
<text x="566.50" y="661.78" font-size="3.6" font-weight="400" fill="#9a9a9a" text-anchor="end">60</text>
<text x="566.50" y="645.46" font-size="3.6" font-weight="400" fill="#9a9a9a" text-anchor="end">70</text>
<rect x="608.05" y="679.18" width="36.50" height="79.32" fill="#b4c7e7" fill-opacity="0.64"/>
<rect x="654.25" y="662.05" width="36.50" height="96.45" fill="#f8cbad" fill-opacity="0.64"/>
<rect x="765.25" y="693.06" width="36.50" height="65.44" fill="#b4c7e7" fill-opacity="0.64"/>
<rect x="811.45" y="695.83" width="36.50" height="62.67" fill="#f8cbad" fill-opacity="0.64"/>
<rect x="922.65" y="740.71" width="36.50" height="17.79" fill="#b4c7e7" fill-opacity="0.64"/>
<rect x="968.85" y="755.07" width="36.50" height="3.43" fill="#f8cbad" fill-opacity="0.64"/>
<line x1="570.00" y1="758.50" x2="1042.80" y2="758.50" stroke="rgba(40,50,80,0.14)" stroke-width="0.7"/>
<line x1="570.00" y1="742.18" x2="1042.80" y2="742.18" stroke="rgba(40,50,80,0.14)" stroke-width="0.7"/>
<line x1="570.00" y1="725.86" x2="1042.80" y2="725.86" stroke="rgba(40,50,80,0.14)" stroke-width="0.7"/>
<line x1="570.00" y1="709.54" x2="1042.80" y2="709.54" stroke="rgba(40,50,80,0.14)" stroke-width="0.7"/>
<line x1="570.00" y1="693.22" x2="1042.80" y2="693.22" stroke="rgba(40,50,80,0.14)" stroke-width="0.7"/>
<line x1="570.00" y1="676.90" x2="1042.80" y2="676.90" stroke="rgba(40,50,80,0.14)" stroke-width="0.7"/>
<line x1="570.00" y1="660.58" x2="1042.80" y2="660.58" stroke="rgba(40,50,80,0.14)" stroke-width="0.7"/>
<line x1="570.00" y1="644.26" x2="1042.80" y2="644.26" stroke="rgba(40,50,80,0.14)" stroke-width="0.7"/>
<text x="628.80" y="768.42" font-size="5" font-weight="400" fill="#8c8c8c" textLength="41.00" lengthAdjust="spacingAndGlyphs">불규칙적인 편이다</text>
<text x="788.25" y="768.42" font-size="5" font-weight="400" fill="#8c8c8c" textLength="36.50" lengthAdjust="spacingAndGlyphs">규칙적인 편이다</text>
<text x="940.00" y="768.42" font-size="5" font-weight="400" fill="#8c8c8c" textLength="47.00" lengthAdjust="spacingAndGlyphs">매우 규칙적인 편이다</text>
<rect x="698.30" y="777.00" width="2.60" height="2.60" fill="#b4c7e7"/>
<text x="702.50" y="781.46" font-size="8.2" font-weight="400" fill="#8e8e8e" textLength="90.00" lengthAdjust="spacingAndGlyphs">식사 후 칫솔질을 하는 집단</text>
<rect x="795.50" y="777.00" width="2.60" height="2.60" fill="#f8cbad"/>
<text x="799.30" y="781.46" font-size="8.2" font-weight="400" fill="#8e8e8e" textLength="106.00" lengthAdjust="spacingAndGlyphs">식사 후 칫솔질을 하지 않는 집단</text>
<path d="M556.20,793.00 L1038.30,793.00 L1048.10,802.80 L1048.10,817.20 L566.00,817.20 L556.20,807.40 Z" fill="#fff" stroke="#70ad47" stroke-width="2.4" stroke-linejoin="miter"/>
<text x="656.30" y="809.15" font-size="12.6" textLength="289.70" lengthAdjust="spacingAndGlyphs">하루 피로 회복 충분에 따른 구강위생보조용품 사용 여부</text>
<text x="567.50" y="950.00" font-size="3.6" font-weight="400" fill="#9a9a9a" text-anchor="end">0</text>
<text x="567.50" y="929.79" font-size="3.6" font-weight="400" fill="#9a9a9a" text-anchor="end">10</text>
<text x="567.50" y="909.58" font-size="3.6" font-weight="400" fill="#9a9a9a" text-anchor="end">20</text>
<text x="567.50" y="889.37" font-size="3.6" font-weight="400" fill="#9a9a9a" text-anchor="end">30</text>
<text x="567.50" y="869.16" font-size="3.6" font-weight="400" fill="#9a9a9a" text-anchor="end">40</text>
<text x="567.50" y="848.95" font-size="3.6" font-weight="400" fill="#9a9a9a" text-anchor="end">50</text>
<text x="567.50" y="828.74" font-size="3.6" font-weight="400" fill="#9a9a9a" text-anchor="end">60</text>
<rect x="609.20" y="887.97" width="36.60" height="60.83" fill="#b4c7e7" fill-opacity="0.64"/>
<rect x="655.20" y="851.79" width="36.60" height="97.01" fill="#f8cbad" fill-opacity="0.64"/>
<rect x="766.20" y="859.07" width="36.60" height="89.73" fill="#b4c7e7" fill-opacity="0.64"/>
<rect x="812.20" y="876.25" width="36.60" height="72.55" fill="#f8cbad" fill-opacity="0.64"/>
<rect x="923.70" y="896.86" width="36.60" height="51.94" fill="#b4c7e7" fill-opacity="0.64"/>
<rect x="969.70" y="916.26" width="36.60" height="32.54" fill="#f8cbad" fill-opacity="0.64"/>
<line x1="571.30" y1="948.80" x2="1043.50" y2="948.80" stroke="rgba(40,50,80,0.14)" stroke-width="0.7"/>
<line x1="571.30" y1="928.59" x2="1043.50" y2="928.59" stroke="rgba(40,50,80,0.14)" stroke-width="0.7"/>
<line x1="571.30" y1="908.38" x2="1043.50" y2="908.38" stroke="rgba(40,50,80,0.14)" stroke-width="0.7"/>
<line x1="571.30" y1="888.17" x2="1043.50" y2="888.17" stroke="rgba(40,50,80,0.14)" stroke-width="0.7"/>
<line x1="571.30" y1="867.96" x2="1043.50" y2="867.96" stroke="rgba(40,50,80,0.14)" stroke-width="0.7"/>
<line x1="571.30" y1="847.75" x2="1043.50" y2="847.75" stroke="rgba(40,50,80,0.14)" stroke-width="0.7"/>
<line x1="571.30" y1="827.54" x2="1043.50" y2="827.54" stroke="rgba(40,50,80,0.14)" stroke-width="0.7"/>
<text x="634.75" y="958.72" font-size="5" font-weight="400" fill="#8c8c8c" textLength="30.50" lengthAdjust="spacingAndGlyphs">부족한 편이다</text>
<text x="797.85" y="958.72" font-size="5" font-weight="400" fill="#8c8c8c" textLength="19.30" lengthAdjust="spacingAndGlyphs">보통이다</text>
<text x="955.15" y="958.72" font-size="5" font-weight="400" fill="#8c8c8c" textLength="19.30" lengthAdjust="spacingAndGlyphs">충분하다</text>
<rect x="673.00" y="966.70" width="2.60" height="2.60" fill="#b4c7e7"/>
<text x="677.00" y="971.00" font-size="7.8" font-weight="400" fill="#8e8e8e" textLength="116.00" lengthAdjust="spacingAndGlyphs">구강위생보조용품을 사용하는 집단</text>
<rect x="796.30" y="966.70" width="2.60" height="2.60" fill="#f8cbad"/>
<text x="800.00" y="971.00" font-size="7.8" font-weight="400" fill="#8e8e8e" textLength="133.30" lengthAdjust="spacingAndGlyphs">구강위생보조용품을 사용하지 않는 집단</text>
<path d="M562.6,986.40 l1.9,2.6 l4.3,-7" fill="none" stroke="#000" stroke-width="1.05"/>
<text x="577.00" y="989.96" font-size="10.8" textLength="462.50" lengthAdjust="spacingAndGlyphs">건강하지 않다고 생각하는 집단일수록 하루 피로 회복이 부족한 편이고, 건강하다고 생각하는 집단일</text>
<text x="573.30" y="1009.66" font-size="10.8" textLength="121.00" lengthAdjust="spacingAndGlyphs">수록 충분하다고 나타났다.</text>
<path d="M562.6,1028.60 l1.9,2.6 l4.3,-7" fill="none" stroke="#000" stroke-width="1.05"/>
<text x="573.30" y="1032.16" font-size="10.8" textLength="466.20" lengthAdjust="spacingAndGlyphs">치과치료를 1년 이상 하지 않은 집단과 구강위생보조용품을 사용하지 않는 집단일수록 하루 피로 회복</text>
<text x="573.30" y="1052.16" font-size="10.8" textLength="134.70" lengthAdjust="spacingAndGlyphs">에 영향을 미친다고 나타났다.</text>
<path d="M562.6,1071.40 l1.9,2.6 l4.3,-7" fill="none" stroke="#000" stroke-width="1.05"/>
<text x="573.30" y="1074.96" font-size="10.8" textLength="466.20" lengthAdjust="spacingAndGlyphs">전신질환이 있는 집단은 하루 평균 수면시간이 충분하지 못하지만, 다른 문제점의 원인을 가지고 있는</text>
<text x="573.30" y="1095.46" font-size="10.8" textLength="223.00" lengthAdjust="spacingAndGlyphs">집단은 하루 평균 수면시간이 충분하게 나타났다.</text>
<path d="M562.6,1114.10 l1.9,2.6 l4.3,-7" fill="none" stroke="#000" stroke-width="1.05"/>
<text x="573.30" y="1117.66" font-size="10.8" textLength="307.50" lengthAdjust="spacingAndGlyphs">칫솔질을 하지 않는 집단일수록 취침시간이 불규칙하다고 나타났다.</text>
<rect x="546.00" y="1161.00" width="514.00" height="125.80" fill="none" stroke="#e4f1dc" stroke-width="1.8"/>
<rect x="558.80" y="1139.30" width="198.00" height="38.20" fill="#c5e0b4" rx="6"/>
<text x="598.30" y="1165.50" font-size="20.5" fill="#fff" textLength="118.50" lengthAdjust="spacingAndGlyphs">Conclusions</text>
<text x="555.00" y="1193.50" font-size="10.9" textLength="494.80" lengthAdjust="spacingAndGlyphs">본 연구에서 전라북도 대학생들의 피로도 지각과 구강건강관리 실태는 연관성이 있다는 것을 알 수 있었다.</text>
<text x="555.00" y="1213.05" font-size="10.9" textLength="494.80" lengthAdjust="spacingAndGlyphs">학년 및 전공과 관련 없이 남성보다 여성의 수면이 불규칙적일수록 피로도를 느끼며 구강건강 관리 실태에</text>
<text x="555.00" y="1232.60" font-size="10.9" textLength="494.80" lengthAdjust="spacingAndGlyphs">영향을 미치는 것으로 조사되었다. 본 연구결과를 토대로 대학생을 포함한 성인의 수면의 질 상승을 위한</text>
<text x="555.00" y="1252.15" font-size="10.9" textLength="494.80" lengthAdjust="spacingAndGlyphs">전국 치과의원 및 치과병원을 포함하여 국가의 지속적인 구강건강 증진 프로그램 개발에 노력이 필요할</text>
<text x="555.00" y="1271.40" font-size="10.9" textLength="76.80" lengthAdjust="spacingAndGlyphs">것으로 사료된다.</text>
<rect x="547.20" y="1326.80" width="512.10" height="98.70" fill="none" stroke="#e4f1dc" stroke-width="1.8"/>
<rect x="554.50" y="1302.00" width="198.50" height="38.50" fill="#c5e0b4" rx="6"/>
<text x="599.50" y="1328.30" font-size="20.5" fill="#fff" textLength="107.30" lengthAdjust="spacingAndGlyphs">References</text>
<text x="558.80" y="1363.00" font-size="10.4" textLength="467.70" lengthAdjust="spacingAndGlyphs">[1] Yoo KH. The Relationship between physical/mental health and life stress of college students.</text>
<text x="558.80" y="1374.60" font-size="10.4" textLength="476.50" lengthAdjust="spacingAndGlyphs">Journal of Technologic Dentistry, 2013;35(4):405-414. https://doi.org/10.14347/kadt.2013.35.4.405</text>
<text x="558.80" y="1396.80" font-size="10.4" textLength="484.50" lengthAdjust="spacingAndGlyphs">[2] Hong MH. Risk factors for the prevalence of periodontal diseases among adult workers. Journal</text>
<text x="558.80" y="1408.30" font-size="10.4" textLength="475.70" lengthAdjust="spacingAndGlyphs">of Korean Dental Engineering, 2014;15(6):3706-3713. https://doi.org/10.5762/KAIS.2014.15.6.3706</text>
</svg>
</body>
</html>
